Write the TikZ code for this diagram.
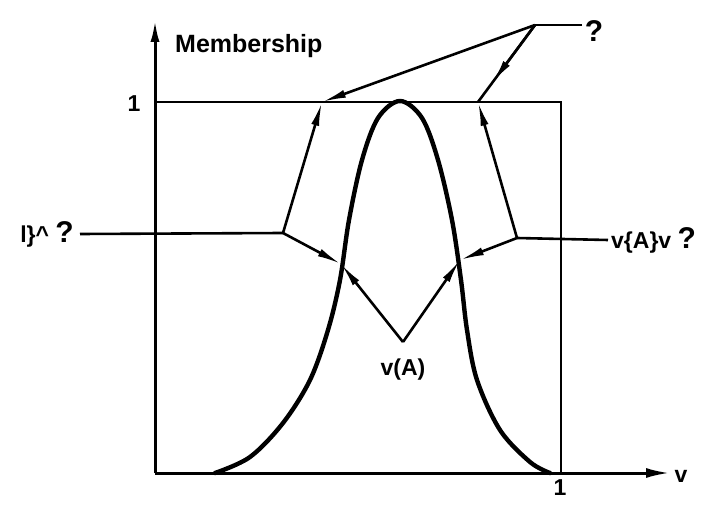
\documentclass[tikz,border=0pt]{standalone}
\usepackage{fontspec}
\setmainfont{Liberation Sans}
\usetikzlibrary{arrows.meta,calc}
\begin{document}
\begin{tikzpicture}[x=1pt,y=-1pt,
  axisline/.style={line width=3pt},
  boxline/.style={line width=2.8pt},
  curveline/.style={line width=4.4pt,line cap=round},
  ptr/.style={line width=2.6pt,-{Latex[length=24pt,width=8pt]}},
  plainline/.style={line width=2.6pt},
  lbl/.style={font=\bfseries\fontsize{23}{24}\selectfont,inner sep=0pt}]
\useasboundingbox (0,0) rectangle (705,505);
% coordinates
\coordinate (O) at (155,473);
\coordinate (Ytop) at (155,20);
\coordinate (Xend) at (670,473);
\coordinate (TL) at (155,102);
\coordinate (TR) at (561,102);
\coordinate (BR) at (561,473);
\coordinate (Lk) at (283,233);
\coordinate (Rk) at (517,238);
\coordinate (Li) at (341,264);
\coordinate (Ri) at (460,260);
\coordinate (V) at (403,342);
\coordinate (Ap) at (535,25);
\coordinate (Apr) at (582,25);
\coordinate (Tl) at (322,102);
\coordinate (Tr) at (478,102);
% axes
\draw[axisline,-{Latex[length=22pt,width=9pt]}] (O) -- (Ytop);
\draw[axisline,-{Latex[length=24pt,width=10pt]}] (O) -- (Xend);
% box
\draw[boxline] (TL) -- (TR) -- (BR);
% bell curve
\draw[curveline] plot[smooth,tension=0.55] coordinates {(215,473) (250,457) (283,423) (310,380) (328,330) (340,280) (349,220) (362,160) (378,118) (400,101) (422,118) (438,160) (452,220) (461,280) (467,330) (477,380) (500,430) (530,462) (550,473)};
% labels
\node[lbl,anchor=base west,font=\bfseries\fontsize{25}{26}\selectfont] (mem) at (175,53) {Membership};
\node[lbl] (one) at (134,104) {1};
\node[lbl] (oner) at (560,488) {1};
\node[lbl] (vax) at (681,476) {v};
\node[lbl,anchor=east] (lq) at (74,234) {l\}\textasciicircum\ \fontsize{30}{30}\selectfont ?};
\node[lbl,anchor=west] (rq) at (611,240) {v\{A\}v \fontsize{30}{30}\selectfont ?};
\node[lbl,font=\bfseries\fontsize{30}{30}\selectfont] (tq) at (594,31) {?};
\node[lbl] (va) at (403,370) {v(A)};
% connectors
\draw[plainline] (lq.east) ++(6,0) coordinate (lqs) -- (Lk);
\draw[plainline] (Rk) -- ([xshift=-3pt]rq.west);
\draw[ptr] (Lk) -- (Tl);
\draw[ptr] (Lk) -- (Li);
\draw[ptr] (Rk) -- (Tr);
\draw[ptr] (Rk) -- (Ri);
\draw[ptr] (V) -- (Li);
\draw[ptr] (V) -- (Ri);
\draw[plainline] (Apr) -- (Ap);
\draw[ptr] (Ap) -- (Tl);
\draw[plainline] (Ap) -- (Tr);
\draw[ptr] (Ap) -- ($(Ap)!0.75!(Tr)$);
\end{tikzpicture}
\end{document}
